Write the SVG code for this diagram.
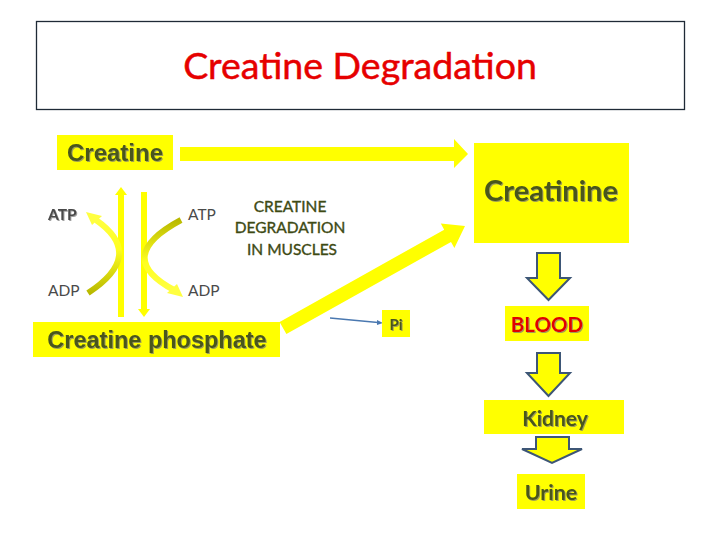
<svg xmlns="http://www.w3.org/2000/svg" width="720" height="540" viewBox="0 0 720 540">
<defs>
<style>
.box{fill:#ffff00;}
.ol{fill:#4a571b;}
.ar{font-family:"Liberation Sans",Arial,sans-serif;font-weight:bold;}
.cb{font-family:Lato,"Liberation Sans",sans-serif;}
.blk{fill:#ffff00;stroke:#3d5676;stroke-width:2;stroke-linejoin:miter;}
.lbl{fill:#4a4a4a;font-family:Lato,"Liberation Sans",sans-serif;font-size:15.5px;}
</style>
<filter id="sh" x="-10%" y="-20%" width="130%" height="150%">
<feDropShadow dx="1" dy="1" stdDeviation="0.6" flood-color="#777" flood-opacity="0.7"/>
</filter>
<linearGradient id="gL" x1="0" y1="1" x2="0" y2="0">
<stop offset="0" stop-color="#b9b900"/>
<stop offset="0.6" stop-color="#ffff20"/>
<stop offset="1" stop-color="#ffff40"/>
</linearGradient>
<linearGradient id="gR" x1="0" y1="0" x2="0" y2="1">
<stop offset="0" stop-color="#b9b900"/>
<stop offset="0.6" stop-color="#ffff20"/>
<stop offset="1" stop-color="#ffff40"/>
</linearGradient>
</defs>
<rect x="0" y="0" width="720" height="540" fill="#ffffff"/>

<g id="title">
<rect x="36.5" y="21.5" width="648" height="88" fill="#ffffff" stroke="#1f2a36" stroke-width="1.3"/>
<text x="360" y="79" text-anchor="middle" class="cb" font-size="37.5" fill="#e60000" stroke="#e60000" stroke-width="0.5">Creatine Degradation</text>
</g>

<g id="connectors">
<polygon points="180,147 454,147 454,139 468,154 454,168 454,161 180,161" fill="#ffff00"/>
<polygon points="286.4,334.1 279.6,321.9 444.2,229.7 440.8,223.6 465,226 454.4,248 451,241.9" fill="#ffff00"/>
<line x1="330" y1="318" x2="378" y2="322.5" stroke="#4a78b0" stroke-width="1.3"/>
<polygon points="383,323 377,320 377,325" fill="#4a78b0"/>
<polygon points="118,317 124,317 124,195 127,195 121,187 115,195 118,195" fill="#ffff00"/>
<polygon points="141,192 147,192 147,309 150,309 144,317 138,309 141,309" fill="#ffff00"/>
<path d="M 88 293 Q 146 255 96 220" fill="none" stroke="url(#gL)" stroke-width="6"/>
<polygon points="86,212 102,216 92,225" fill="#ffff40"/>
<path d="M 181 220 Q 112 257 174 290" fill="none" stroke="url(#gR)" stroke-width="6"/>
<polygon points="183,297 167,293 177,284" fill="#ffff40"/>
<polygon class="blk" points="537,253 560,253 560,278 570,278 548.5,300 527,278 537,278"/>
<polygon class="blk" points="537,353 560,353 560,373 570,373 548.5,396 527,373 537,373"/>
<polygon class="blk" points="536,437 569,437 569,449 582,449 552,463 522,449 536,449"/>
</g>

<g id="creatine">
<rect class="box" x="57" y="135" width="116" height="35"/>
<text x="115" y="161" text-anchor="middle" class="ar ol" font-size="24" filter="url(#sh)">Creatine</text>
</g>

<g id="creatinine">
<rect class="box" x="474" y="143" width="155" height="100"/>
<text x="551" y="201" text-anchor="middle" class="cb ol" font-size="29" font-weight="bold" filter="url(#sh)">Creatinine</text>
</g>

<g id="phosphate">
<rect class="box" x="33" y="322" width="247" height="35"/>
<text x="157" y="348" text-anchor="middle" class="ar ol" font-size="23.5" filter="url(#sh)">Creatine phosphate</text>
</g>

<g id="label-degradation">
<text text-anchor="middle" class="cb" font-size="15.5" fill="#3e4a14" stroke="#3e4a14" stroke-width="0.35">
<tspan x="292" y="212">CREATINE</tspan>
<tspan x="292" y="233">DEGRADATION</tspan>
<tspan x="292" y="255">IN MUSCLES</tspan>
</text>
</g>

<g id="atp-adp">
<text x="48" y="220" class="lbl" font-weight="bold" filter="url(#sh)">ATP</text>
<text x="188" y="220" class="lbl">ATP</text>
<text x="48" y="296" class="lbl">ADP</text>
<text x="188" y="296" class="lbl">ADP</text>
</g>

<g id="pi">
<rect class="box" x="382" y="310" width="28" height="27"/>
<text x="396" y="330" text-anchor="middle" class="cb ol" font-size="15" font-weight="bold" filter="url(#sh)">Pi</text>
</g>

<g id="blood">
<rect class="box" x="505" y="306" width="84" height="35"/>
<text x="547" y="332" text-anchor="middle" class="cb" font-size="20.5" font-weight="bold" fill="#e00000" filter="url(#sh)">BLOOD</text>
</g>

<g id="kidney">
<rect class="box" x="484" y="400" width="140" height="34"/>
<text x="555" y="426" text-anchor="middle" class="cb ol" font-size="21" font-weight="bold" filter="url(#sh)">Kidney</text>
</g>

<g id="urine">
<rect class="box" x="517" y="474" width="68" height="35"/>
<text x="551" y="500" text-anchor="middle" class="cb ol" font-size="21.5" font-weight="bold" filter="url(#sh)">Urine</text>
</g>
</svg>
